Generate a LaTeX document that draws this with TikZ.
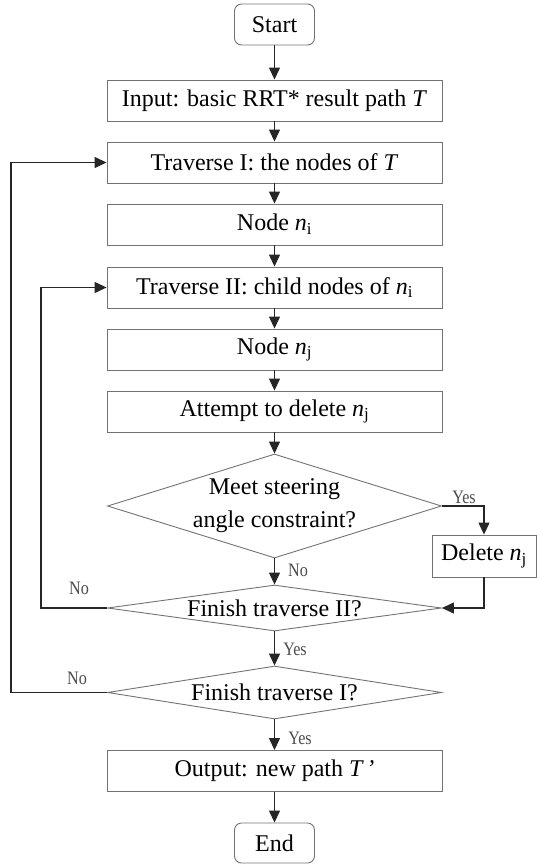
\documentclass[tikz,border=0pt]{standalone}
\usepackage{fontspec}
\setmainfont{Liberation Serif}
\newfontfamily\answerfont[FakeStretch=0.85]{Liberation Serif}
\usetikzlibrary{arrows.meta,shapes.geometric}

\begin{document}
\begin{tikzpicture}[x=1pt,y=-1pt,
  every node/.style={font=\fontsize{24}{33}\selectfont},
  procbox/.style={draw=black!55, line width=0.9pt, minimum width=335pt,
    minimum height=41pt, inner sep=0pt},
  termbox/.style={draw=black!55, line width=0.9pt, rounded corners=7pt,
    minimum width=80pt, minimum height=41pt, inner sep=0pt},
  decision/.style={draw=black!55, line width=0.9pt, diamond, inner sep=0pt,
    minimum width=334pt},
  flow/.style={draw=black!85, line width=1.3pt,
    -{Triangle[length=12pt,width=11pt]}},
  answer/.style={font=\answerfont\fontsize{19}{19}\selectfont,
    text=black!70, inner sep=1pt}
]
\useasboundingbox (0,0) rectangle (537,864);

% main column
\node[termbox] (start) at (274.5,24.5) {Start};
\node[procbox] (input) at (274.5,100.5) {Input: basic RRT* result path \textit{T}};
\node[procbox] (trI)   at (274.5,162.5) {Traverse I: the nodes of \textit{T}};
\node[procbox] (ni)    at (274.5,224.5) {Node \textit{n}\textsubscript{i}};
\node[procbox] (trII)  at (274.5,287.5) {Traverse II: child nodes of \textit{n}\textsubscript{i}};
\node[procbox] (nj)    at (274.5,349.5) {Node \textit{n}\textsubscript{j}};
\node[procbox] (try)   at (274.5,411.5) {Attempt to delete \textit{n}\textsubscript{j}};

% decisions
\node[decision, minimum height=104pt] (dA) at (274.5,506) {};
\node[align=center] at (dA.center) {Meet steering\\angle constraint?};
\node[decision, minimum height=46pt] (dB) at (274.5,608) {};
\node at (dB.center) {Finish traverse II?};
\node[decision, minimum height=53pt] (dC) at (274.5,692.5) {};
\node at (dC.center) {Finish traverse I?};

\node[procbox, minimum width=104pt, minimum height=42pt] (del) at (484,556)
  {Delete \textit{n}\textsubscript{j}};

\node[procbox] (output) at (274.5,771) {Output: new path \textit{T\,’}};
\node[termbox, minimum height=40pt] (stop) at (274.5,843) {End};

% straight flow
\draw[flow] (start) -- (input);
\draw[flow] (input) -- (trI);
\draw[flow] (trI) -- (ni);
\draw[flow] (ni) -- (trII);
\draw[flow] (trII) -- (nj);
\draw[flow] (nj) -- (try);
\draw[flow] (try) -- (dA.north);
\draw[flow] (dA.south) -- (dB.north);
\draw[flow] (dB.south) -- (dC.north);
\draw[flow] (dC.south) -- (output);
\draw[flow] (output) -- (stop);

% delete branch
\draw[flow] (dA.east) -- (dA.east -| del.north) -- (del.north);
\draw[flow] (del.south) -- (del.south |- dB.east) -- (dB.east);

% loops back
\coordinate (innerx) at (41,0);
\coordinate (outerx) at (11,0);
\draw[flow] (dB.west) -- (dB.west -| innerx) -- (trII.west -| innerx) -- (trII.west);
\draw[flow] (dC.west) -- (dC.west -| outerx) -- (trI.west -| outerx) -- (trI.west);

% answers
\node[answer] at (464,497) {Yes};
\node[answer] at (298,570) {No};
\node[answer] at (79,588) {No};
\node[answer] at (295,649) {Yes};
\node[answer] at (77,678) {No};
\node[answer] at (300,738) {Yes};
\end{tikzpicture}
\end{document}
